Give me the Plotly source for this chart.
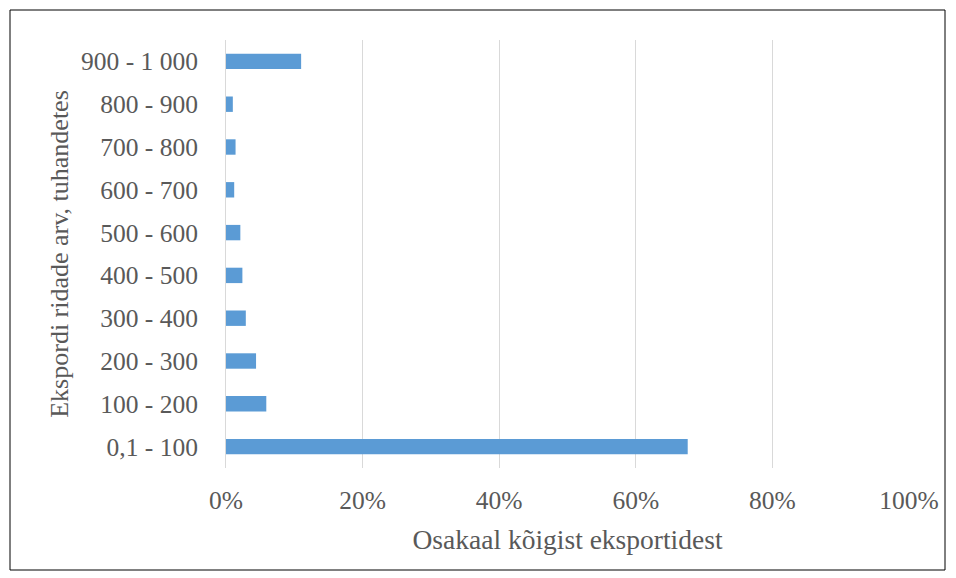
import plotly.graph_objects as go

categories = ["0,1 - 100", "100 - 200", "200 - 300", "300 - 400", "400 - 500",
              "500 - 600", "600 - 700", "700 - 800", "800 - 900", "900 - 1 000"]
shares = [0.676, 0.059, 0.044, 0.029, 0.024, 0.021, 0.012, 0.014, 0.010, 0.110]
x_ticks = [0, 0.2, 0.4, 0.6, 0.8, 1.0]
x_tick_labels = ["0%", "20%", "40%", "60%", "80%", "100%"]

font_family = "Times New Roman, Liberation Serif, serif"
text_color = "#595959"

fig = go.Figure(go.Bar(
    x=shares, y=categories, orientation="h",
    marker=dict(color="#5b9bd5", line=dict(width=0)),
    hoverinfo="x+y",
))

W, H = 956, 578
L, R, T, B = 226, 47, 40, 110
pw, ph = W - L - R, H - T - B

fig.update_layout(
    width=W, height=H,
    margin=dict(l=L, r=R, t=T, b=B),
    paper_bgcolor="white", plot_bgcolor="white",
    bargap=0.64,
    showlegend=False,
    font=dict(family=font_family, size=25.5, color=text_color),
    xaxis=dict(
        range=[0, 1.0], tickvals=x_ticks, ticktext=x_tick_labels,
        showgrid=True, gridcolor="#d9d9d9", gridwidth=1,
        zeroline=False, showline=False, ticks="",
        ticklabelstandoff=14,
        title=dict(text="Osakaal kõigist eksportidest", standoff=16,
                   font=dict(family=font_family, size=27.5, color=text_color)),
        tickfont=dict(family=font_family, size=25.5, color=text_color),
    ),
    yaxis=dict(
        categoryorder="array", categoryarray=categories,
        showgrid=False, zeroline=False,
        showline=True, linecolor="#d9d9d9", linewidth=1,
        ticks="", ticklabelstandoff=22,
        title=dict(text="Ekspordi ridade arv, tuhandetes", standoff=4,
                   font=dict(family=font_family, size=26, color=text_color)),
        tickfont=dict(family=font_family, size=25.5, color=text_color),
    ),
    shapes=[dict(
        type="rect", xref="paper", yref="paper",
        x0=(10 - L) / pw, x1=(945 - L) / pw,
        y0=(H - B - 570) / ph, y1=(H - B - 10) / ph,
        line=dict(color="black", width=1), fillcolor="rgba(0,0,0,0)",
        layer="below",
    )],
)

fig.write_html("out.html", config={"displayModeBar": False},
               post_script="document.body.style.margin='0';")
